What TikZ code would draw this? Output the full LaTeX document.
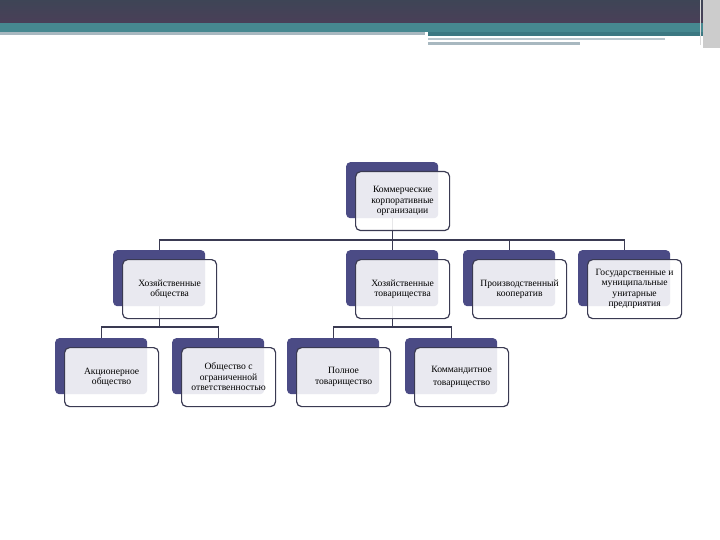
\documentclass[tikz,border=0pt]{standalone}
\usepackage{fontspec}
\setmainfont{Liberation Serif}
\usetikzlibrary{backgrounds}
\definecolor{temno}{HTML}{3E4556}
\definecolor{sliva}{HTML}{4A3F58}
\definecolor{biruza}{HTML}{468890}
\definecolor{biruzat}{HTML}{3C7882}
\definecolor{seryi}{HTML}{A8B8C0}
\definecolor{sinii}{HTML}{4B4B85}
\definecolor{rama}{HTML}{3A3A52}
\begin{document}
\begin{tikzpicture}[x=1pt,y=-1pt]
\tikzstyle{zad} = [rectangle, rounded corners=4pt, fill=sinii, minimum width=92pt, minimum height=56pt, anchor=north west, inner sep=0pt] % задний прямоугольник
\tikzstyle{pered} = [rectangle, rounded corners=5pt, draw=rama, line width=1.2pt, fill=white, fill opacity=0.88, text opacity=1, minimum width=94pt, minimum height=59pt, anchor=north west, xshift=9pt, yshift=-9pt, align=center, font=\fontsize{9.6}{10.5}\selectfont, inner sep=1pt] % передний прямоугольник с текстом
\tikzstyle{svyaz} = [draw=rama, line width=1.2pt] % соединительные линии
\useasboundingbox (0,0) rectangle (720,540);
% шапка слайда
\shade[top color=temno, bottom color=sliva] (0,0) rectangle (705,23);
\fill[biruza] (0,23) rectangle (705,32);
\fill[seryi] (0,32) rectangle (425,35);
\fill[biruzat] (428,32) rectangle (705,36);
\fill[seryi!80] (428,38) rectangle (665,40);
\fill[seryi] (428,42) rectangle (580,45);
\fill[black!20] (703,0) rectangle (720,48);
\draw[white!85!black, line width=1pt] (700,0) -- (700,45);
% верхний уровень
\node[zad] (k0) at (346,162) {};
\node[pered] (k0t) at (k0.north west) {Коммерческие\\корпоративные\\организации};
% второй уровень
\node[zad] (h1) at (113,250) {};
\node[pered] (h1t) at (h1.north west) {Хозяйственные\\общества};
\node[zad] (h2) at (346,250) {};
\node[pered] (h2t) at (h2.north west) {Хозяйственные\\товарищества};
\node[zad] (h3) at (463,250) {};
\node[pered] (h3t) at (h3.north west) {Производственный\\кооператив};
\node[zad] (h4) at (578,250) {};
\node[pered] (h4t) at (h4.north west) {Государственные и\\муниципальные\\унитарные\\предприятия};
% третий уровень
\node[zad] (a1) at (55,338) {};
\node[pered] (a1t) at (a1.north west) {Акционерное\\общество};
\node[zad] (a2) at (172,338) {};
\node[pered] (a2t) at (a2.north west) {Общество с\\ограниченной\\ответственностью};
\node[zad] (b1) at (287,338) {};
\node[pered] (b1t) at (b1.north west) {Полное\\товарищество};
\node[zad] (b2) at (405,338) {};
\node[pered] (b2t) at (b2.north west) {Коммандитное\\[3pt]товарищество};
% шины
\coordinate (shina1) at (0,240);
\coordinate (shina2) at (0,327);
\begin{scope}[on background layer]
\foreach \r in {h1,h2,h3,h4}
  \draw[svyaz] (k0.center) -- (k0.center |- shina1) -| (\r.center);
\foreach \r in {a1,a2}
  \draw[svyaz] (h1.center) -- (h1.center |- shina2) -| (\r.center);
\foreach \r in {b1,b2}
  \draw[svyaz] (h2.center) -- (h2.center |- shina2) -| (\r.center);
\end{scope}
\end{tikzpicture}
\end{document}
